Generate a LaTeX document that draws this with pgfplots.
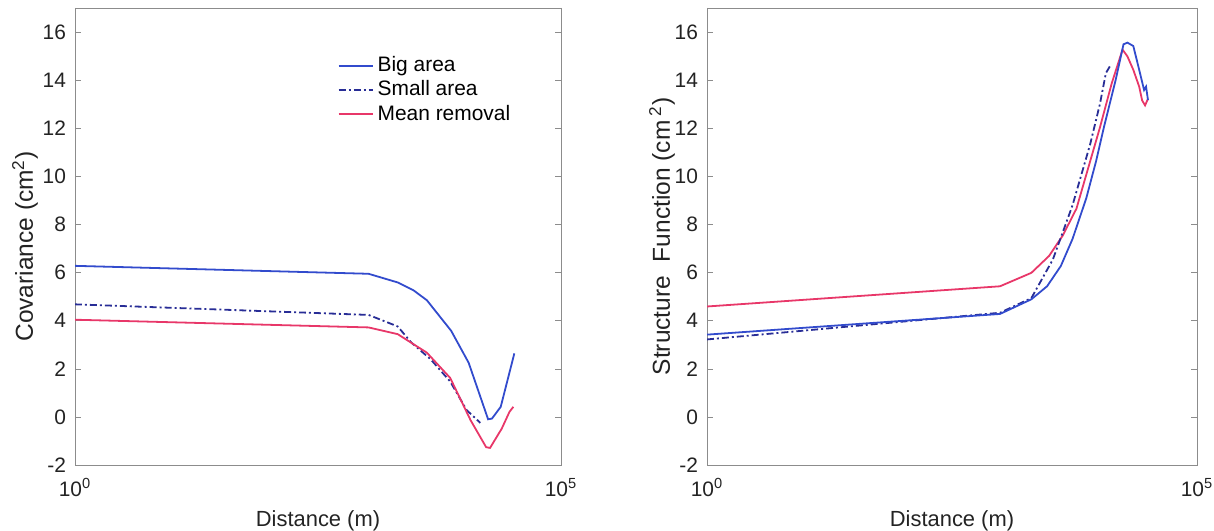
\documentclass[border=0pt]{standalone}
\usepackage{fontspec}
\setmainfont{Liberation Sans}
\usepackage{pgfplots}
\pgfplotsset{compat=1.18}
\definecolor{bigblue}{RGB}{50,75,205}
\definecolor{smallblue}{RGB}{40,45,150}
\definecolor{meanred}{RGB}{232,55,105}
\definecolor{txt}{RGB}{35,35,35}

\pgfplotsset{
  mypanel/.style={
    scale only axis, height=228.5bp,
    xmin=1, xmax=1e5, ymin=-2, ymax=17,
    xtick={1,1e5}, xticklabels={10\textsuperscript{0},10\textsuperscript{5}},
    minor xtick={},
    ytick={-2,0,2,4,6,8,10,12,14,16},
    tick align=inside, major tick length=3bp,
    axis line style={black!45}, tick style={black!45},
    ticklabel style={font=\fontsize{10.5}{12}\selectfont, text=txt},
    xticklabel style={yshift=-3bp},
    yticklabel style={xshift=-1bp},
    xlabel style={font=\fontsize{11}{12}\selectfont, text=txt, yshift=-0.5bp},
    ylabel style={font=\fontsize{12.3}{14}\selectfont, text=txt,
      at={(axis description cs:0,0.5)}, anchor=center},
    xlabel={Distance (m)},
    /pgf/number format/assume math mode=true,
    every axis plot/.append style={line width=0.9pt},
  },
  smalldash/.style={smallblue, dash pattern=on 3.5pt off 1.5pt on 1pt off 1.5pt},
}

\begin{document}
\begin{tikzpicture}
\begin{semilogxaxis}[mypanel, at={(37.5bp,33bp)}, anchor=south west, width=243bp,
  ylabel={Covariance (cm\textsuperscript{2})},
  ylabel style={yshift=25bp, xshift=-5bp},
  legend style={at={(rel axis cs:0.54,0.903)}, anchor=north west, draw=none, fill=none,
    font=\fontsize{10.5}{12}\selectfont, row sep=-1bp, inner sep=0pt,
    cells={anchor=west}},
]
\addplot[bigblue] coordinates {
(1,6.28) (1047,5.95) (2089,5.59) (3020,5.27) (4169,4.85) (7413,3.58)
(11220,2.25) (17783,-0.1) (19498,-0.07) (23988,0.42) (33113,2.64)};
\addlegendentry{Big area}
\addplot[smalldash] coordinates {
(1,4.68) (1047,4.24) (2089,3.76) (2884,3.09) (4571,2.39) (7244,1.47)
(10715,0.28) (14791,-0.25)};
\addlegendentry{Small area}
\addplot[meanred] coordinates {
(1,4.04) (1047,3.72) (2089,3.44) (4169,2.67) (7244,1.62) (11749,-0.14)
(16982,-1.26) (18621,-1.29) (24547,-0.49) (29512,0.21) (32359,0.42)};
\addlegendentry{Mean removal}
\end{semilogxaxis}

\begin{semilogxaxis}[mypanel, at={(353.5bp,33bp)}, anchor=south west, width=245bp,
  ylabel={Structure\ \ Function (cm\,\textsuperscript{2})},
  ylabel style={yshift=22.5bp},
]
\addplot[meanred] coordinates {
(1,4.59) (977,5.43) (2042,5.99) (3090,6.69) (4266,7.54) (5888,8.66)
(7762,10.35) (10233,12.04) (13490,13.87) (17378,15.27) (19498,14.99)
(22387,14.43) (25704,13.73) (27542,13.16) (29512,12.95) (31623,13.23)};
\addplot[smalldash] coordinates {
(1,3.22) (977,4.33) (2042,4.94) (3388,6.55) (5370,8.80) (8128,11.34)
(10233,13.02) (11749,14.29) (12882,14.57)};
\addplot[bigblue] coordinates {
(1,3.42) (977,4.28) (2042,4.89) (2951,5.43) (4074,6.27) (5370,7.40)
(7413,9.09) (9333,10.63) (11220,12.04) (14791,14.01) (17783,15.49)
(19498,15.56) (22387,15.42) (25704,14.43) (28840,13.59) (30200,13.73)
(31623,13.17)};
\end{semilogxaxis}
\pgfresetboundingbox
\useasboundingbox (0,0) rectangle (607bp,265.5bp);
\end{tikzpicture}
\end{document}
